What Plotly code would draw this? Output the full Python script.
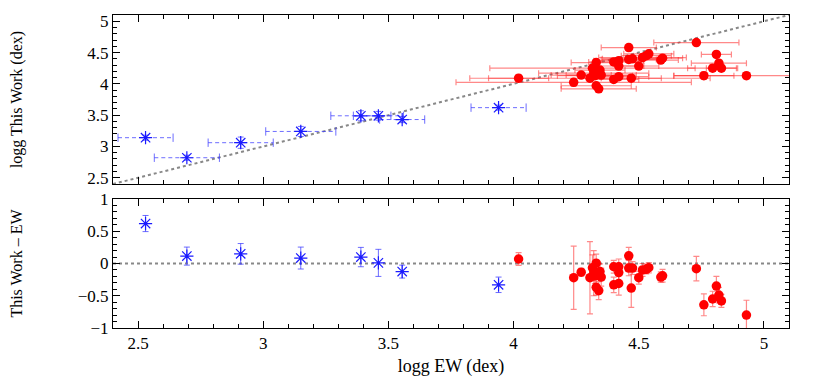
import plotly.graph_objects as go
from plotly.subplots import make_subplots

# ---- data ----
blue_x = [2.53, 2.695, 2.91, 3.15, 3.39, 3.46, 3.555, 3.94]
blue_y = [3.14, 2.82, 3.06, 3.24, 3.49, 3.49, 3.43, 3.62]
blue_xerr = [0.11, 0.13, 0.13, 0.14, 0.12, 0.10, 0.09, 0.11]
blue_yerr = [0.04, 0.04, 0.09, 0.08, 0.08, 0.07, 0.05, 0.04]
blue_diff = [0.62, 0.115, 0.15, 0.085, 0.10, 0.01, -0.125, -0.33]
blue_diff_err = [0.125, 0.14, 0.16, 0.17, 0.15, 0.21, 0.10, 0.12]

red_x = [4.02, 4.46, 4.73, 4.81, 4.82, 4.795, 4.83, 4.76, 4.93, 4.595, 4.588, 4.54,
         4.515, 4.50, 4.47, 4.46, 4.42, 4.42, 4.42, 4.40, 4.40, 4.33, 4.315, 4.345,
         4.35, 4.305, 4.27, 4.24, 4.33, 4.34, 4.32, 4.325, 4.475, 4.53]
red_y = [4.09, 4.58, 4.66, 4.47, 4.33, 4.25, 4.25, 4.13, 4.13, 4.41, 4.38, 4.48,
         4.42, 4.285, 4.09, 4.39, 4.37, 4.285, 4.115, 4.07, 4.35, 4.34, 4.25, 4.22,
         4.14, 4.09, 4.14, 4.025, 3.97, 3.92, 4.17, 4.13, 4.40, 4.45]
red_xerr = [0.12, 0.11, 0.17, 0.06, 0.11, 0.10, 0.06, 0.12, 0.29, 0.08, 0.07, 0.10,
            0.175, 0.08, 0.12, 0.11, 0.10, 0.10, 0.12, 0.10, 0.10, 0.10, 0.41, 0.10,
            0.14, 0.48, 0.12, 0.47, 0.14, 0.15, 0.22, 0.15, 0.12, 0.10]
red_yerr = [0.05, 0.05, 0.03, 0.05, 0.05, 0.05, 0.05, 0.06, 0.05, 0.04, 0.04, 0.04,
            0.04, 0.05, 0.05, 0.05, 0.05, 0.05, 0.04, 0.04, 0.04, 0.05, 0.05, 0.05,
            0.05, 0.05, 0.04, 0.06, 0.05, 0.04, 0.05, 0.05, 0.05, 0.04]
red_diff = [0.07, 0.12, -0.08, -0.35, -0.49, -0.55, -0.58, -0.64, -0.80, -0.19, -0.21, -0.065,
            -0.10, -0.22, -0.38, -0.07, -0.05, -0.14, -0.31, -0.33, -0.05, 0.005, -0.066, -0.125,
            -0.21, -0.22, -0.135, -0.22, -0.37, -0.42, -0.15, -0.19, -0.07, -0.09]
red_diff_err = [0.10, 0.13, 0.19, 0.15, 0.12, 0.12, 0.10, 0.17, 0.23, 0.10, 0.08, 0.08,
                0.10, 0.10, 0.30, 0.12, 0.12, 0.12, 0.18, 0.12, 0.10, 0.14, 0.20, 0.12,
                0.14, 0.56, 0.06, 0.49, 0.12, 0.14, 0.35, 0.12, 0.10, 0.07]

x_range = [2.4, 5.1]
top_range = [2.4, 5.1]
bot_range = [-1, 1]
x_ticks = [2.5, 3, 3.5, 4, 4.5, 5]
top_ticks = [2.5, 3, 3.5, 4, 4.5, 5]
bot_ticks = [-1, -0.5, 0, 0.5, 1]

FONT = "Liberation Serif"
RED = "#ff0000"
RED_ERR = "rgba(255,40,40,0.55)"
BLUE = "#1a1aff"
BLUE_ERR = "rgba(60,60,255,0.75)"

fig = make_subplots(rows=2, cols=1, shared_xaxes=False, vertical_spacing=0.05)

# 1:1 reference line
fig.add_trace(go.Scatter(x=x_range, y=top_range, mode="lines",
                         line=dict(color="#888888", width=2, dash="dot"),
                         hoverinfo="skip"), row=1, col=1)
fig.add_trace(go.Scatter(x=x_range, y=[0, 0], mode="lines",
                         line=dict(color="#888888", width=2, dash="dot"),
                         hoverinfo="skip"), row=2, col=1)

# blue dashed horizontal error bars (top)
hx, hy, cx, cy = [], [], [], []
for x, y, e in zip(blue_x, blue_y, blue_xerr):
    hx += [x - e, x + e, None]
    hy += [y, y, None]
    cx += [x - e, x + e]
    cy += [y, y]
fig.add_trace(go.Scatter(x=hx, y=hy, mode="lines",
                         line=dict(color=BLUE_ERR, width=1, dash="4px,3px")), row=1, col=1)
fig.add_trace(go.Scatter(x=cx, y=cy, mode="markers",
                         marker=dict(symbol="line-ns", size=6, color=BLUE_ERR,
                                     line=dict(color=BLUE_ERR, width=1))), row=1, col=1)

# blue points top
fig.add_trace(go.Scatter(x=blue_x, y=blue_y, mode="markers",
                         error_y=dict(type="data", array=blue_yerr, color=BLUE_ERR,
                                      thickness=1, width=3),
                         marker=dict(symbol="asterisk-open", size=11, color=BLUE,
                                     line=dict(color=BLUE, width=1.2))), row=1, col=1)

# red points top
fig.add_trace(go.Scatter(x=red_x, y=red_y, mode="markers",
                         error_x=dict(type="data", array=red_xerr, color=RED_ERR,
                                      thickness=1.2, width=3),
                         error_y=dict(type="data", array=red_yerr, color=RED_ERR,
                                      thickness=1.2, width=3),
                         marker=dict(symbol="circle", size=9.5, color=RED)), row=1, col=1)

# bottom panel
fig.add_trace(go.Scatter(x=blue_x, y=blue_diff, mode="markers",
                         error_y=dict(type="data", array=blue_diff_err, color=BLUE_ERR,
                                      thickness=1, width=3),
                         marker=dict(symbol="asterisk-open", size=11, color=BLUE,
                                     line=dict(color=BLUE, width=1.2))), row=2, col=1)
fig.add_trace(go.Scatter(x=red_x, y=red_diff, mode="markers",
                         error_y=dict(type="data", array=red_diff_err, color=RED_ERR,
                                      thickness=1.2, width=3),
                         marker=dict(symbol="circle", size=9.5, color=RED)), row=2, col=1)

axis_common = dict(showline=True, linecolor="black", linewidth=1, mirror="ticks",
                   ticks="inside", ticklen=7, tickcolor="black", showgrid=False,
                   zeroline=False, automargin=False,
                   tickfont=dict(family=FONT, size=17, color="black"),
                   minor=dict(ticks="inside", ticklen=4, dtick=0.1, tickcolor="black",
                              showgrid=False))

fig.update_xaxes(range=x_range, tickvals=x_ticks, **axis_common)
fig.update_xaxes(showticklabels=False, row=1, col=1)
fig.update_xaxes(title=dict(text="logg EW (dex)", font=dict(family=FONT, size=18, color="black"),
                            standoff=6), row=2, col=1)
fig.update_yaxes(**axis_common)
fig.update_yaxes(range=top_range, tickvals=top_ticks, domain=[0.46, 1.0],
                 title=dict(text="logg This Work (dex)",
                            font=dict(family=FONT, size=16, color="black"), standoff=60),
                 row=1, col=1)
fig.update_yaxes(range=bot_range, tickvals=bot_ticks, domain=[0.0, 0.412],
                 title=dict(text="This Work – EW",
                            font=dict(family=FONT, size=16, color="black"), standoff=52),
                 row=2, col=1)

# page body adds an 8px offset; the figure is sized so the plot lands where the reference has it
fig.update_layout(width=822, height=374, showlegend=False,
                  paper_bgcolor="white", plot_bgcolor="white",
                  margin=dict(l=105, r=41, t=7, b=54),
                  font=dict(family=FONT, color="black"))

fig.write_html("out.html")
